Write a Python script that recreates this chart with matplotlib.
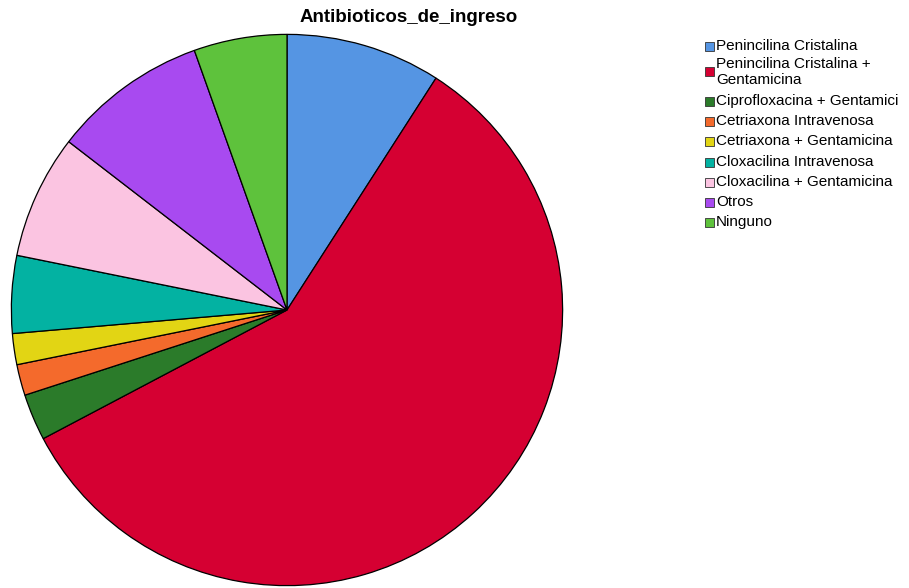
import matplotlib.pyplot as plt
from matplotlib.patches import Rectangle

plt.rcParams['font.family'] = ['Liberation Sans', 'DejaVu Sans']

# Antibiotic groups at admission (counts)
labels = ["Penincilina Cristalina", "Penincilina Cristalina +\nGentamicina",
          "Ciprofloxacina + Gentamici", "Cetriaxona Intravenosa",
          "Cetriaxona + Gentamicina", "Cloxacilina Intravenosa",
          "Cloxacilina + Gentamicina", "Otros", "Ninguno"]
counts = [10, 64, 3, 2, 2, 5, 8, 10, 6]
colors = ["#5595E3", "#D50032", "#2B7B2A", "#F46A2C", "#E2D514",
          "#03B2A2", "#FBC4E1", "#A84AF0", "#5EC23C"]

W, H = 909, 588
fig = plt.figure(figsize=(W / 100, H / 100), dpi=100)

cx, cy, r = 287, 310, 277
ax = fig.add_axes([(cx - r) / W, (H - cy - r) / H, 2 * r / W, 2 * r / H])
ax.pie(counts, colors=colors, startangle=90, counterclock=False,
       wedgeprops=dict(edgecolor="black", linewidth=0.9))
ax.set_xlim(-1.005, 1.005)
ax.set_ylim(-1.005, 1.005)
ax.set_aspect("equal")
ax.axis("off")

fig.text(409 / W, 1 - 18 / H, "Antibioticos_de_ingreso",
         ha="center", va="center", fontsize=13.5, fontweight="bold")

# legend drawn by hand: swatch + label per row
rows_y = [46, 72, 101, 121, 141, 162, 182, 202, 222]
for lab, col, y in zip(labels, colors, rows_y):
    fig.patches.append(Rectangle((705 / W, 1 - (y + 4.5) / H), 9 / W, 9 / H,
                                 transform=fig.transFigure, facecolor=col,
                                 edgecolor="#333333", linewidth=0.6))
    fig.text(716 / W, 1 - y / H, lab, ha="left", va="center", fontsize=11,
             linespacing=1.15)

fig.savefig("out.png", dpi=100)
